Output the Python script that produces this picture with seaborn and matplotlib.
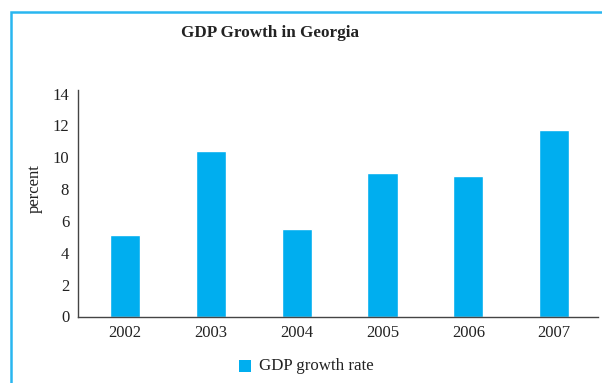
import matplotlib
matplotlib.use("Agg")
import matplotlib.pyplot as plt
import seaborn as sns
import pandas as pd
from matplotlib.patches import Rectangle

years = ["2002", "2003", "2004", "2005", "2006", "2007"]
gdp_growth = [5.1, 10.4, 5.5, 9.0, 8.8, 11.7]
y_ticks = [0, 2, 4, 6, 8, 10, 12, 14]
series_name = "GDP growth rate"

df = pd.DataFrame({"year": years, "value": gdp_growth, "series": series_name})

sns.set_theme(style="white")
plt.rcParams["font.family"] = ["Liberation Serif", "DejaVu Serif"]

fig = plt.figure(figsize=(6.02, 3.83), dpi=100)
ax = fig.add_axes([77.5 / 602, 1 - 316.5 / 383, 520.5 / 602, 226.5 / 383])

bar_color = "#00AEEF"
sns.barplot(data=df, x="year", y="value", hue="series", palette=[bar_color],
            width=0.35, ax=ax, legend=False, saturation=1)

ax.set_xlim(-0.553, 5.51)
ax.set_ylim(0, 14.22)
ax.set_yticks(y_ticks)
ax.set_yticklabels([str(t) for t in y_ticks])
ax.tick_params(axis="both", length=0, labelsize=12, colors="#222222", pad=6)
ax.set_xlabel("")
ax.set_ylabel("percent", fontsize=12, color="#222222")
ax.yaxis.set_label_coords(-0.066, 0.567)
for s in ["top", "right"]:
    ax.spines[s].set_visible(False)
for s in ["left", "bottom"]:
    ax.spines[s].set_color("#444444")
    ax.spines[s].set_linewidth(1.0)

fig.text(270 / 602, 1 - 33 / 383, "GDP Growth in Georgia", ha="center", va="center",
         fontsize=12.3, fontweight="bold", color="#222222")

# legend
fig.patches.append(Rectangle((239 / 602, 1 - 372 / 383), 12 / 602, 12 / 383,
                             transform=fig.transFigure, facecolor=bar_color, edgecolor="none"))
fig.text(259 / 602, 1 - 366 / 383, series_name, ha="left", va="center",
         fontsize=12.2, color="#222222")

# frame border
fig.patches.append(Rectangle((11 / 602, -0.1), 1.2, 1 - 12 / 383 + 0.1,
                             transform=fig.transFigure, facecolor="none",
                             edgecolor="#29B6F0", linewidth=1.8))

fig.savefig("out.png", dpi=100)
